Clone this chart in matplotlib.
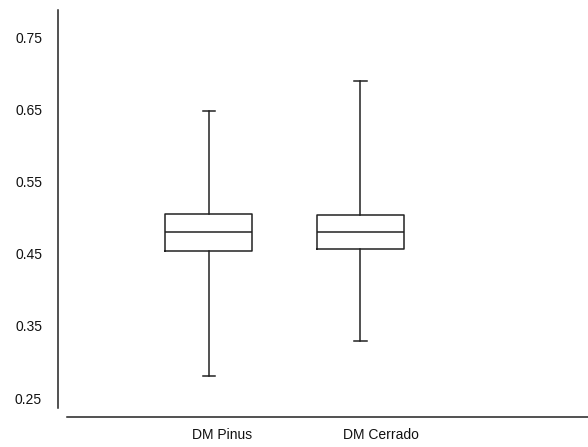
import matplotlib
matplotlib.use("Agg")
import matplotlib.pyplot as plt
import matplotlib.transforms as mtransforms

plt.rcParams['font.family'] = ['Liberation Sans', 'DejaVu Sans']

# box summary per group
groups = ['DM Pinus', 'DM Cerrado']
whis_low = [0.281, 0.329]
q1 = [0.454, 0.456]
medians = [0.480, 0.480]
q3 = [0.505, 0.503]
whis_high = [0.648, 0.689]
yticks = [0.25, 0.35, 0.45, 0.55, 0.65, 0.75]

stats = []
for i, name in enumerate(groups):
    stats.append({'label': name, 'whislo': whis_low[i], 'q1': q1[i],
                  'med': medians[i], 'q3': q3[i], 'whishi': whis_high[i],
                  'fliers': []})

fig = plt.figure(figsize=(5.88, 4.47), dpi=100)
ax = fig.add_axes([67 / 588, 30 / 447, 521 / 588, 407 / 447])

line = dict(color='#222222', linewidth=1.1)
ax.bxp(stats, positions=[1, 2], widths=0.574, capwidths=0.08,
       showfliers=False, boxprops=line, whiskerprops=line,
       capprops=line, medianprops=line)

ax.set_xlim(0.063, 3.502)
ax.set_ylim(0.2237, 0.7874)

for s in ['top', 'right']:
    ax.spines[s].set_visible(False)
ax.spines['left'].set_position(('outward', 6.5))
ax.spines['left'].set_bounds(0.2361, 0.7874)
for s in ['left', 'bottom']:
    ax.spines[s].set_color('#222222')
    ax.spines[s].set_linewidth(1.1)

ax.set_yticks(yticks)
ax.set_yticklabels([f'{v:.2f}' for v in yticks])
ax.tick_params(axis='y', length=0, pad=11.5, labelsize=10, labelcolor='#111111')

ax.set_xticks([1, 2])
ax.set_xticklabels(groups)
ax.tick_params(axis='x', length=0, pad=8, labelsize=10, labelcolor='#111111')
shift = mtransforms.ScaledTranslation(-17 / 100, 0, fig.dpi_scale_trans)
for lab in ax.get_xticklabels():
    lab.set_horizontalalignment('left')
    lab.set_transform(lab.get_transform() + shift)

fig.savefig('out.png', dpi=100)
